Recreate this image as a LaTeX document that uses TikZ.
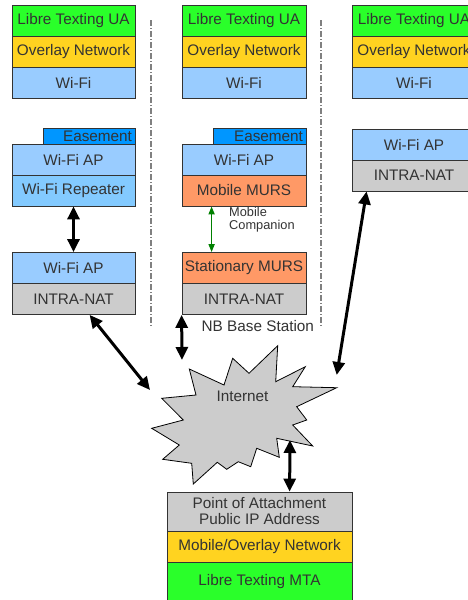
\documentclass[tikz,border=0pt]{standalone}
\usepackage{fontspec}
\setmainfont{Liberation Sans}
\usetikzlibrary{arrows.meta,calc}
\definecolor{cgreen}{HTML}{2AFF2A}
\definecolor{cyellow}{HTML}{FFD320}
\definecolor{cblue}{HTML}{99CCFF}
\definecolor{crep}{HTML}{83CAFF}
\definecolor{cease}{HTML}{0096FF}
\definecolor{corange}{HTML}{FF9966}
\definecolor{cgray}{HTML}{CCCCCC}
\definecolor{cborder}{HTML}{333333}
\definecolor{ctext}{HTML}{333333}
\definecolor{cdarkgreen}{HTML}{008000}
\definecolor{cdiv}{HTML}{808080}
\tikzset{
  layer/.style={draw=cborder, line width=0.8pt, minimum height=31pt, inner sep=0pt,
    text=ctext, font=\fontsize{15.3}{17}\selectfont, anchor=center},
  colbox/.style={layer, minimum width=123pt},
  tabbox/.style={layer, minimum height=16pt, fill=cease, align=right},
  bigarrow/.style={line width=3pt, {Triangle[width=12pt,length=13pt]}-{Triangle[width=12pt,length=13pt]}},
  greenarrow/.style={line width=1.6pt, draw=cdarkgreen, {Triangle[width=6pt,length=8pt]}-{Triangle[width=6pt,length=8pt]}},
  divider/.style={draw=cdiv, line width=1.1pt, dash pattern=on 6pt off 2pt on 1pt off 2pt},
  smalltext/.style={text=ctext, font=\fontsize{12.8}{13.5}\selectfont, align=left, inner sep=0pt},
}
\begin{document}
\begin{tikzpicture}[x=1pt,y=-1pt]
\useasboundingbox (0,0) rectangle (468,600);
\fill[white] (0,0) rectangle (468,600);

% dividers
\draw[divider] (151,20) -- (151,327);
\draw[divider] (321,20) -- (321,327);

% left column
\node[colbox, fill=cgreen] (lua) at (73.5,20.5) {Libre Texting UA};
\node[colbox, fill=cyellow] (lov) at (73.5,51.5) {Overlay Network};
\node[colbox, fill=cblue] (lwf) at (73.5,82.5) {Wi-Fi};
\node[tabbox, minimum width=92pt, text width=86pt] (lease) at (89,136) {Easement};
\node[colbox, fill=cblue] (lap) at (73.5,159.5) {Wi-Fi AP};
\node[colbox, fill=crep] (lrep) at (73.5,190.5) {Wi-Fi Repeater};
\node[colbox, fill=cblue] (lap2) at (73.5,268) {Wi-Fi AP};
\node[colbox, fill=cgray] (lnat) at (73.5,299) {INTRA-NAT};

% middle column
\node[colbox, minimum width=124pt, fill=cgreen] (mua) at (244,20.5) {Libre Texting UA};
\node[colbox, minimum width=124pt, fill=cyellow] (mov) at (244,51.5) {Overlay Network};
\node[colbox, minimum width=124pt, fill=cblue] (mwf) at (244,82.5) {Wi-Fi};
\node[tabbox, minimum width=93pt, text width=87pt] (mease) at (259.5,136) {Easement};
\node[colbox, minimum width=124pt, fill=cblue] (map) at (244,159.5) {Wi-Fi AP};
\node[colbox, minimum width=124pt, fill=corange] (mmurs) at (244,190.5) {Mobile MURS};
\node[colbox, minimum width=124pt, fill=corange] (smurs) at (244,268) {Stationary MURS};
\node[colbox, minimum width=124pt, fill=cgray] (mnat) at (244,299) {INTRA-NAT};
\node[smalltext, anchor=west] (comp) at (229,219.5) {Mobile\\Companion};
\node[text=ctext, font=\fontsize{15.3}{17}\selectfont, anchor=west, inner sep=0pt] (nb) at (201.5,326) {NB Base Station};

% right column
\node[colbox, minimum width=124pt, fill=cgreen] (rua) at (414,20.5) {Libre Texting UA};
\node[colbox, minimum width=124pt, fill=cyellow] (rov) at (414,51.5) {Overlay Network};
\node[colbox, minimum width=124pt, fill=cblue] (rwf) at (414,82.5) {Wi-Fi};
\node[colbox, minimum width=124pt, fill=cblue] (rap) at (414,144.5) {Wi-Fi AP};
\node[colbox, minimum width=124pt, fill=cgray] (rnat) at (414,175.5) {INTRA-NAT};

% internet starburst
\draw[draw=black, line width=0.8pt, fill=cgray, line join=miter]
  (189.3,369) -- (224,385) -- (232.7,358.3) -- (249,373.3) -- (277.7,345.7) -- (275.7,381.7)
  -- (305.3,366.7) -- (292.7,386.7) -- (336.7,387.7) -- (296.7,406.7) -- (306.7,420)
  -- (292.7,425) -- (312.7,446) -- (276.7,438.3) -- (279.3,457.3) -- (256.7,448.3)
  -- (250.7,466.7) -- (238.3,461.7) -- (226.7,469.3) -- (217.3,462.3) -- (193.3,484)
  -- (191.7,463.3) -- (162.7,459.3) -- (179.3,445) -- (151.7,428.3) -- (183.3,420)
  -- (161.7,398.3) -- (196,395) -- cycle;
\node[text=ctext, font=\fontsize{15.3}{17}\selectfont, inner sep=0pt] (inet) at (242.5,396) {Internet};

% bottom stack
\node[layer, minimum width=185pt, minimum height=39pt, fill=cgray, align=center] (poa) at (259.5,511.5) {Point of Attachment\\[-1pt]Public IP Address};
\node[layer, minimum width=185pt, fill=cyellow] (mon) at (259.5,546.5) {Mobile/Overlay Network};
\node[layer, minimum width=185pt, minimum height=39pt, fill=cgreen] (mta) at (259.5,581.5) {Libre Texting MTA};

% connector ends
\coordinate (mend) at (182,360);
\coordinate (lend) at (150,390);
\coordinate (rend) at (336.7,375);
\coordinate (bend) at (290,440);

% connectors
\draw[bigarrow] (lrep.south) -- (lap2.north);
\draw[greenarrow] ([xshift=30pt]mmurs.south west) -- ([xshift=30pt]smurs.north west);
\draw[bigarrow] (mnat.south west) -- (mend);
\draw[bigarrow] ([xshift=78pt]lnat.south west) -- (lend);
\draw[bigarrow] ([xshift=15pt]rnat.south west) -- (rend);
\draw[bigarrow] (bend) -- ([xshift=123pt]poa.north west);
\end{tikzpicture}
\end{document}
